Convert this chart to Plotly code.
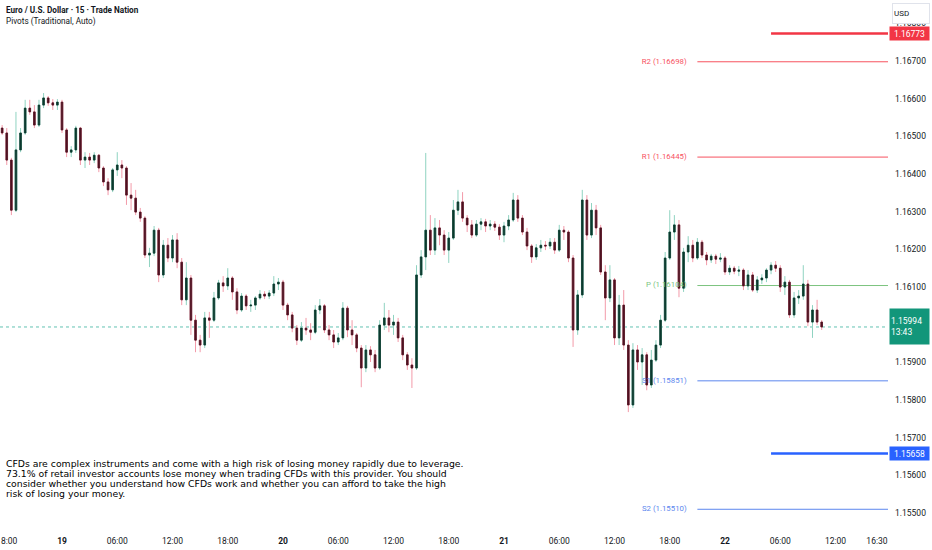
import plotly.graph_objects as go
import pandas as pd

# ---------------- data (EUR/USD, 30-min bars) ----------------
start_time = "2025-08-18 17:30"
first_open = 1.16522

closes = [1.16509, 1.16437, 1.16304, 1.16464, 1.16509, 1.16575, 1.16565, 1.16530, 1.16583, 1.16602,
          1.16589, 1.16583, 1.16591, 1.16517, 1.16458, 1.16464, 1.16522, 1.16437, 1.16445, 1.16437,
          1.16450, 1.16416, 1.16379, 1.16358, 1.16411, 1.16424, 1.16416, 1.16344, 1.16336, 1.16299,
          1.16283, 1.16185, 1.16190, 1.16251, 1.16132, 1.16211, 1.16177, 1.16225, 1.16166, 1.16066,
          1.16124, 1.16012, 1.15959, 1.15946, 1.16018, 1.16012, 1.16071, 1.16111, 1.16103, 1.16124,
          1.16087, 1.16039, 1.16076, 1.16050, 1.16052, 1.16071, 1.16081, 1.16076, 1.16084, 1.16108,
          1.16113, 1.16052, 1.16026, 1.15991, 1.15959, 1.15991, 1.15986, 1.15980, 1.16039, 1.16050,
          1.15986, 1.15973, 1.15954, 1.15965, 1.16044, 1.15986, 1.15973, 1.15938, 1.15885, 1.15933,
          1.15920, 1.15885, 1.15999, 1.16018, 1.15999, 1.16007, 1.15965, 1.15920, 1.15893, 1.15885,
          1.16132, 1.16180, 1.16251, 1.16198, 1.16257, 1.16238, 1.16198, 1.16230, 1.16304, 1.16326,
          1.16283, 1.16265, 1.16238, 1.16267, 1.16273, 1.16262, 1.16267, 1.16259, 1.16238, 1.16262,
          1.16278, 1.16331, 1.16283, 1.16246, 1.16209, 1.16180, 1.16204, 1.16211, 1.16209, 1.16219,
          1.16198, 1.16251, 1.16246, 1.16177, 1.15986, 1.16079, 1.16331, 1.16238, 1.16304, 1.16257,
          1.16140, 1.16071, 1.16119, 1.15965, 1.16052, 1.15946, 1.15787, 1.15933, 1.15901, 1.15920,
          1.15840, 1.15906, 1.15946, 1.16012, 1.16177, 1.16246, 1.16265, 1.16097, 1.16193, 1.16211,
          1.16177, 1.16219, 1.16185, 1.16172, 1.16182, 1.16174, 1.16177, 1.16140, 1.16150, 1.16142,
          1.16145, 1.16103, 1.16132, 1.16092, 1.16119, 1.16124, 1.16145, 1.16158, 1.16150, 1.16100,
          1.16113, 1.16026, 1.16071, 1.16076, 1.16108, 1.16007, 1.16039, 1.16007, 1.15994]

highs = [1.16530, 1.16522, 1.16443, 1.16565, 1.16522, 1.16597, 1.16597, 1.16583, 1.16597, 1.16615,
         1.16607, 1.16599, 1.16599, 1.16597, 1.16522, 1.16474, 1.16528, 1.16525, 1.16458, 1.16456,
         1.16458, 1.16453, 1.16421, 1.16389, 1.16416, 1.16458, 1.16437, 1.16421, 1.16376, 1.16358,
         1.16310, 1.16288, 1.16204, 1.16262, 1.16257, 1.16225, 1.16230, 1.16238, 1.16243, 1.16177,
         1.16166, 1.16132, 1.16026, 1.15973, 1.16034, 1.16034, 1.16087, 1.16119, 1.16129, 1.16150,
         1.16129, 1.16097, 1.16084, 1.16081, 1.16066, 1.16076, 1.16092, 1.16089, 1.16092, 1.16129,
         1.16124, 1.16119, 1.16058, 1.16034, 1.15999, 1.16007, 1.16018, 1.16004, 1.16052, 1.16068,
         1.16055, 1.15999, 1.15986, 1.15978, 1.16060, 1.16050, 1.16012, 1.15978, 1.15946, 1.15946,
         1.15943, 1.15933, 1.16012, 1.16058, 1.16039, 1.16026, 1.16018, 1.15973, 1.15927, 1.15911,
         1.16158, 1.16198, 1.16456, 1.16291, 1.16283, 1.16278, 1.16251, 1.16246, 1.16331, 1.16358,
         1.16352, 1.16291, 1.16278, 1.16278, 1.16283, 1.16281, 1.16278, 1.16275, 1.16267, 1.16273,
         1.16291, 1.16350, 1.16344, 1.16291, 1.16257, 1.16214, 1.16214, 1.16225, 1.16222, 1.16230,
         1.16230, 1.16265, 1.16262, 1.16251, 1.16185, 1.16092, 1.16358, 1.16344, 1.16323, 1.16318,
         1.16265, 1.16158, 1.16158, 1.16124, 1.16079, 1.16092, 1.15959, 1.15951, 1.15946, 1.15938,
         1.15927, 1.15933, 1.15959, 1.16026, 1.16193, 1.16304, 1.16291, 1.16278, 1.16204, 1.16235,
         1.16225, 1.16230, 1.16225, 1.16193, 1.16188, 1.16188, 1.16190, 1.16182, 1.16158, 1.16156,
         1.16156, 1.16150, 1.16145, 1.16140, 1.16129, 1.16134, 1.16150, 1.16166, 1.16169, 1.16158,
         1.16129, 1.16119, 1.16087, 1.16092, 1.16158, 1.16119, 1.16052, 1.16066, 1.16012]

lows = [1.16504, 1.16424, 1.16291, 1.16299, 1.16458, 1.16504, 1.16557, 1.16522, 1.16525, 1.16575,
        1.16581, 1.16570, 1.16570, 1.16509, 1.16445, 1.16445, 1.16456, 1.16424, 1.16416, 1.16424,
        1.16429, 1.16405, 1.16368, 1.16344, 1.16352, 1.16395, 1.16389, 1.16318, 1.16304, 1.16291,
        1.16273, 1.16177, 1.16153, 1.16182, 1.16113, 1.16124, 1.16166, 1.16166, 1.16150, 1.16052,
        1.16052, 1.15973, 1.15927, 1.15927, 1.15938, 1.15965, 1.16007, 1.16066, 1.16087, 1.16092,
        1.16066, 1.16028, 1.16034, 1.16039, 1.16034, 1.16039, 1.16066, 1.16068, 1.16068, 1.16076,
        1.16092, 1.16039, 1.16012, 1.15980, 1.15946, 1.15954, 1.15973, 1.15959, 1.15975, 1.16028,
        1.15978, 1.15959, 1.15938, 1.15946, 1.15959, 1.15967, 1.15946, 1.15927, 1.15834, 1.15874,
        1.15901, 1.15874, 1.15880, 1.15986, 1.15980, 1.15973, 1.15954, 1.15906, 1.15880, 1.15832,
        1.15880, 1.16124, 1.16145, 1.16185, 1.16185, 1.16211, 1.16185, 1.16164, 1.16225, 1.16291,
        1.16273, 1.16246, 1.16230, 1.16233, 1.16251, 1.16246, 1.16251, 1.16249, 1.16225, 1.16219,
        1.16251, 1.16273, 1.16273, 1.16238, 1.16198, 1.16164, 1.16172, 1.16193, 1.16198, 1.16201,
        1.16188, 1.16193, 1.16225, 1.16166, 1.15941, 1.15973, 1.16071, 1.16225, 1.16230, 1.16238,
        1.16132, 1.16012, 1.16060, 1.15946, 1.15946, 1.15933, 1.15768, 1.15779, 1.15880, 1.15840,
        1.15826, 1.15832, 1.15901, 1.15938, 1.16007, 1.16172, 1.16225, 1.16073, 1.16087, 1.16166,
        1.16166, 1.16172, 1.16177, 1.16158, 1.16164, 1.16161, 1.16166, 1.16132, 1.16132, 1.16134,
        1.16129, 1.16092, 1.16092, 1.16087, 1.16084, 1.16108, 1.16113, 1.16134, 1.16140, 1.16087,
        1.16079, 1.16018, 1.16018, 1.16055, 1.16066, 1.15996, 1.15965, 1.15999, 1.15986]

pivot_names = ["R2", "R1", "P", "S1", "S2"]
pivot_values = [1.16698, 1.16445, 1.16104, 1.15851, 1.15510]
pivot_start = "2025-08-21 21:00"

ray_start = "2025-08-22 05:00"
red_level = 1.16773
blue_level = 1.15658
last_price = 1.15994
countdown = "13:43"

tick_times = ["2025-08-18 18:00", "2025-08-19 00:00", "2025-08-19 06:00", "2025-08-19 12:00",
              "2025-08-19 18:00", "2025-08-20 00:00", "2025-08-20 06:00", "2025-08-20 12:00",
              "2025-08-20 18:00", "2025-08-21 00:00", "2025-08-21 06:00", "2025-08-21 12:00",
              "2025-08-21 18:00", "2025-08-22 00:00", "2025-08-22 06:00", "2025-08-22 12:00",
              "2025-08-22 16:30"]
tick_labels = ["18:00", "19", "06:00", "12:00", "18:00", "20", "06:00", "12:00", "18:00",
               "21", "06:00", "12:00", "18:00", "22", "06:00", "12:00", "16:30"]

price_ticks = [1.155, 1.156, 1.157, 1.158, 1.159, 1.160, 1.161, 1.162,
               1.163, 1.164, 1.165, 1.166, 1.167, 1.168]

x_range = ["2025-08-18 17:16", "2025-08-22 17:42"]
y_range = [1.15455, 1.16862]

disclaimer = [
    "CFDs are complex instruments and come with a high risk of losing money rapidly due to leverage.",
    "73.1% of retail investor accounts lose money when trading CFDs with this provider. You should",
    "consider whether you understand how CFDs work and whether you can afford to take the high",
    "risk of losing your money.",
]

# ---------------- build ----------------
times = pd.date_range(start_time, periods=len(closes), freq="30min")
opens = [first_open] + closes[:-1]
body_hi = [max(o, c) for o, c in zip(opens, closes)]
body_lo = [min(o, c) for o, c in zip(opens, closes)]

UP_WICK, DN_WICK = "#8fd3c1", "#f39aa9"
UP_BODY, DN_BODY = "#0d3a2e", "#4e1322"
RED, BLUE, GREEN = "#f7525f", "#5b86ee", "#7cc47f"
pivot_colors = [RED, RED, GREEN, BLUE, BLUE]
TXT = "#131722"
FONT = "Roboto"
AX = 8.5

fig = go.Figure()

# pivot labels drawn beneath the candles
fig.add_trace(go.Scatter(
    x=[pd.Timestamp(pivot_start) - pd.Timedelta(minutes=70)] * len(pivot_values),
    y=pivot_values, mode="text",
    text=[f"{n} ({v:.5f})" for n, v in zip(pivot_names, pivot_values)],
    textposition="middle left",
    textfont=dict(size=7.8, color=pivot_colors, family=FONT),
    hoverinfo="skip", showlegend=False))

# wicks
fig.add_trace(go.Candlestick(
    x=times, open=opens, high=highs, low=lows, close=closes,
    increasing=dict(line=dict(color=UP_WICK, width=1), fillcolor=UP_WICK),
    decreasing=dict(line=dict(color=DN_WICK, width=1), fillcolor=DN_WICK),
    hoverinfo="skip", showlegend=False))
# bodies
fig.add_trace(go.Candlestick(
    x=times, open=opens, high=body_hi, low=body_lo, close=closes,
    increasing=dict(line=dict(color=UP_BODY, width=0.8), fillcolor=UP_BODY),
    decreasing=dict(line=dict(color=DN_BODY, width=0.8), fillcolor=DN_BODY),
    hoverinfo="skip", showlegend=False))

shapes = []
for v, col in zip(pivot_values, pivot_colors):
    shapes.append(dict(type="line", xref="x", yref="y", x0=pivot_start, x1=x_range[1],
                       y0=v, y1=v, line=dict(color=col, width=1), layer="below"))
shapes.append(dict(type="line", xref="x", yref="y", x0=x_range[0], x1=x_range[1],
                   y0=last_price, y1=last_price, opacity=0.7,
                   line=dict(color="#22ab94", width=1, dash="dot"), layer="below"))
shapes.append(dict(type="line", xref="x", yref="y", x0=ray_start, x1=x_range[1],
                   y0=red_level, y1=red_level, line=dict(color="#f23645", width=2.5)))
shapes.append(dict(type="line", xref="x", yref="y", x0=ray_start, x1=x_range[1],
                   y0=blue_level, y1=blue_level, line=dict(color="#2962ff", width=2.5)))

annotations = []
# header
annotations.append(dict(xref="paper", yref="paper", x=0, y=1 - 10 / 530, xshift=4,
                        xanchor="left", yanchor="middle", showarrow=False,
                        text="<b>Euro / U.S. Dollar · 15 · Trade Nation</b>",
                        font=dict(size=8.2, color=TXT, family=FONT)))
annotations.append(dict(xref="paper", yref="paper", x=0, y=1 - 22 / 530, xshift=4,
                        xanchor="left", yanchor="middle", showarrow=False,
                        text="Pivots (Traditional, Auto)",
                        font=dict(size=8.2, color=TXT, family=FONT)))
# disclaimer
for k, line in enumerate(disclaimer):
    annotations.append(dict(xref="paper", yref="paper", x=0, y=1 - (463 + 10 * k) / 530,
                            xshift=4, xanchor="left", yanchor="middle", showarrow=False,
                            text=line, font=dict(size=9.3, color="#000000", family="DejaVu Sans")))
# price axis labels
annotations.append(dict(xref="paper", yref="y", x=1, y=red_level, xshift=1,
                        xanchor="left", yanchor="middle", showarrow=False,
                        text="1.16773", bgcolor="#f23645", borderpad=1, width=37, height=11,
                        font=dict(size=AX, color="white", family=FONT)))
annotations.append(dict(xref="paper", yref="y", x=1, y=blue_level, xshift=1,
                        xanchor="left", yanchor="middle", showarrow=False,
                        text="1.15658", bgcolor="#2962ff", borderpad=1, width=37, height=11,
                        font=dict(size=AX, color="white", family=FONT)))
annotations.append(dict(xref="paper", yref="y", x=1, y=last_price, xshift=1,
                        xanchor="left", yanchor="top", yshift=19, showarrow=False,
                        text=f"{last_price:.5f}<br>{countdown}", bgcolor="#12967a",
                        borderpad=1, align="left", width=37, height=33,
                        font=dict(size=AX, color="white", family=FONT)))
annotations.append(dict(xref="paper", yref="paper", x=1, y=1 - 3 / 530, xshift=4,
                        xanchor="left", yanchor="top", showarrow=False,
                        text="USD", bgcolor="white", bordercolor="#e0e3eb", borderwidth=1,
                        width=34, height=17, align="left",
                        font=dict(size=8, color=TXT, family=FONT)))

fig.update_layout(
    width=932, height=550,
    margin=dict(l=0, r=44, t=0, b=20, autoexpand=False),
    paper_bgcolor="white", plot_bgcolor="white",
    showlegend=False, hovermode=False, boxgap=0.5,
    shapes=shapes, annotations=annotations,
    xaxis=dict(range=x_range, rangeslider=dict(visible=False), showgrid=False,
               zeroline=False, showline=False, ticks="", ticklabeloverflow="allow",
               automargin=False, tickvals=tick_times, ticklabelstandoff=4,
               ticktext=[f"<b>{t}</b>" if len(t) == 2 else t for t in tick_labels],
               tickfont=dict(size=AX, color=TXT, family=FONT)),
    yaxis=dict(range=y_range, side="right", showgrid=False, zeroline=False,
               showline=False, ticks="", tickvals=price_ticks, automargin=False,
               ticklabelstandoff=6,
               ticktext=[f"{p:.5f}" for p in price_ticks], ticklabeloverflow="allow",
               tickfont=dict(size=AX, color=TXT, family=FONT)),
)

fig.write_html("out.html", config={"displayModeBar": False},
               post_script="document.body.style.margin='0';document.body.style.padding='0';")
